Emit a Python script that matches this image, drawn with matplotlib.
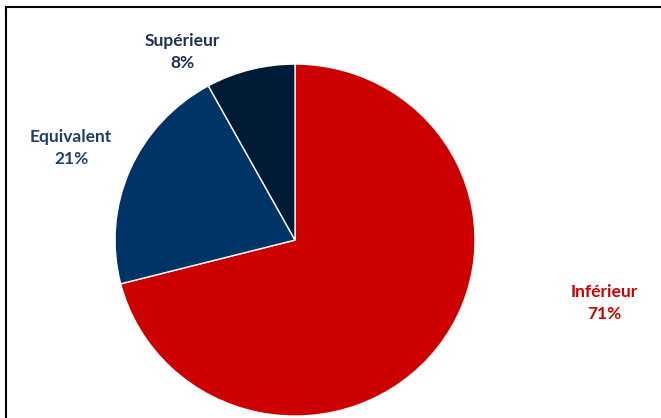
import matplotlib.pyplot as plt
from matplotlib.lines import Line2D

# Répartition
categories = ['Inférieur', 'Equivalent', 'Supérieur']
valeurs = [71, 21, 8]
couleurs = ['#CC0000', '#003366', '#001B35']
couleurs_texte = ['#CC0000', '#1F3F66', '#1F3050']

fig = plt.figure(figsize=(6.61, 4.18), dpi=100)
ax = fig.add_axes([0, 0, 1, 1])

ax.pie(valeurs, colors=couleurs, startangle=90, counterclock=False,
       wedgeprops=dict(edgecolor='white', linewidth=1.0))
# le camembert est légèrement étiré en largeur
ax.set_xlim(-1.639, 2.033)
ax.set_ylim(-1.011, 1.364)
ax.set_aspect('auto')
ax.axis('off')

# Étiquettes
positions = [(1.717, -0.358), (-1.244, 0.523), (-0.628, 1.068)]
for cat, val, col, (x, y) in zip(categories, valeurs, couleurs_texte, positions):
    ax.text(x, y, f'{cat}\n{val}%', ha='center', va='center', color=col,
            fontsize=12.5, fontweight='bold', family='Lato', linespacing=1.5)

# Cadre
fig.add_artist(Line2D([6 / 661, 6 / 661], [0, 1 - 7 / 418], color='black', lw=1.5))
fig.add_artist(Line2D([6 / 661, 1], [1 - 7 / 418, 1 - 7 / 418], color='black', lw=1.5))

fig.savefig('out.png', dpi=100)
